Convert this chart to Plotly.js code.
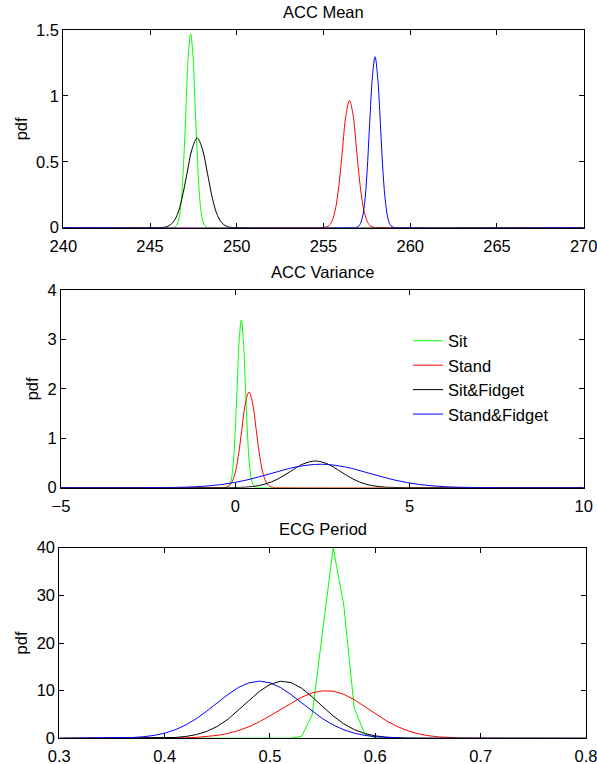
<!DOCTYPE html>
<html>
<head>
<meta charset="utf-8">
<script src="https://cdn.plot.ly/plotly-3.0.1.min.js"></script>
<style>
html,body{margin:0;padding:0;background:#ffffff;}
#chart{width:597px;height:764px;}
</style>
</head>
<body>
<div id="chart"></div>
<script>
// ---------- categories ----------
const seriesNames = ['Sit', 'Stand', 'Sit&Fidget', 'Stand&Fidget'];
const panelTitles = ['ACC Mean', 'ACC Variance', 'ECG Period'];
const yLabel = 'pdf';

// ---------- tick values ----------
const meanTicksX = [240, 245, 250, 255, 260, 265, 270];
const meanTicksY = [0, 0.5, 1, 1.5];
const varTicksX = [-5, 0, 5, 10];
const varTicksY = [0, 1, 2, 3, 4];
const ecgTicksX = [0.3, 0.4, 0.5, 0.6, 0.7, 0.8];
const ecgTicksY = [0, 10, 20, 30, 40];

// ---------- ACC Mean (pdf curves) ----------
const meanSitX = [240, 246.26, 246.39, 246.53, 246.66, 246.80, 246.93, 247.07, 247.20, 247.34, 247.48, 247.61, 247.75, 247.88, 248.02, 248.15, 248.29, 248.42, 270];
const meanSitY = [0, 0.0005, 0.0032, 0.0163, 0.0645, 0.199, 0.477, 0.892, 1.297, 1.47, 1.297, 0.892, 0.477, 0.199, 0.0645, 0.0163, 0.0032, 0.0005, 0];
const meanStandX = [240, 254.84, 255.05, 255.26, 255.46, 255.67, 255.88, 256.09, 256.29, 256.50, 256.71, 256.91, 257.12, 257.33, 257.54, 257.74, 257.95, 258.16, 270];
const meanStandY = [0, 0.0003, 0.0021, 0.0107, 0.0423, 0.130, 0.313, 0.585, 0.851, 0.964, 0.851, 0.585, 0.313, 0.130, 0.0423, 0.0107, 0.0021, 0.0003, 0];
const meanSitFidX = [240, 245.37, 245.66, 245.96, 246.25, 246.55, 246.84, 247.13, 247.43, 247.72, 248.01, 248.31, 248.60, 248.89, 249.19, 249.48, 249.78, 250.07, 270];
const meanSitFidY = [0, 0.0002, 0.0015, 0.0075, 0.0299, 0.092, 0.221, 0.412, 0.600, 0.68, 0.600, 0.412, 0.221, 0.092, 0.0299, 0.0075, 0.0015, 0.0002, 0];
const meanStandFidX = [240, 256.74, 256.89, 257.05, 257.20, 257.36, 257.51, 257.66, 257.82, 257.97, 258.12, 258.28, 258.43, 258.59, 258.74, 258.89, 259.05, 259.20, 270];
const meanStandFidY = [0, 0.0004, 0.0029, 0.0144, 0.0569, 0.175, 0.421, 0.787, 1.145, 1.297, 1.145, 0.787, 0.421, 0.175, 0.0569, 0.0144, 0.0029, 0.0004, 0];

// ---------- ACC Variance ----------
const varSitX = [-5, -0.297, -0.238, -0.179, -0.120, -0.061, -0.003, 0.056, 0.115, 0.174, 0.233, 0.292, 0.351, 0.409, 0.468, 0.527, 0.586, 0.645, 10];
const varSitY = [0, 0.001, 0.0075, 0.0376, 0.149, 0.459, 1.101, 2.056, 2.992, 3.39, 2.992, 2.056, 1.101, 0.459, 0.149, 0.0376, 0.0075, 0.001, 0];
const varStandX = [-5, -0.429, -0.326, -0.223, -0.120, -0.017, 0.086, 0.189, 0.292, 0.395, 0.498, 0.601, 0.704, 0.807, 0.910, 1.013, 1.116, 1.219, 10];
const varStandY = [0, 0.0006, 0.0043, 0.0215, 0.085, 0.262, 0.629, 1.175, 1.709, 1.937, 1.709, 1.175, 0.629, 0.262, 0.085, 0.0215, 0.0043, 0.0006, 0];
const varSitFidX = [-5, -0.58, -0.22, 0.14, 0.50, 0.86, 1.22, 1.58, 1.94, 2.30, 2.66, 3.02, 3.38, 3.74, 4.10, 4.46, 4.82, 5.18, 10];
const varSitFidY = [0, 0.0002, 0.0012, 0.006, 0.0237, 0.073, 0.175, 0.328, 0.477, 0.54, 0.477, 0.328, 0.175, 0.073, 0.0237, 0.006, 0.0012, 0.0002, 0];
const varStandFidX = [-5, -3.23, -2.52, -1.81, -1.10, -0.39, 0.32, 1.03, 1.74, 2.45, 3.16, 3.87, 4.58, 5.29, 6.00, 6.71, 7.42, 8.13, 10];
const varStandFidY = [0, 0.0002, 0.001, 0.0053, 0.0208, 0.0643, 0.154, 0.288, 0.419, 0.475, 0.419, 0.288, 0.154, 0.0643, 0.0208, 0.0053, 0.001, 0.0002, 0];

// ---------- ECG Period ----------
const ecgSitX = [0.30, 0.51, 0.52, 0.53, 0.54, 0.55, 0.56, 0.57, 0.58, 0.59, 0.60, 0.61, 0.80];
const ecgSitY = [0, 0, 0.03, 0.4, 4.9, 22.5, 40.0, 28.0, 6.3, 0.9, 0.06, 0, 0];
const ecgStandX = [0.30, 0.38, 0.39, 0.40, 0.41, 0.42, 0.43, 0.44, 0.45, 0.46, 0.47, 0.48, 0.49, 0.50, 0.51, 0.52, 0.53, 0.54, 0.55, 0.56, 0.57, 0.58, 0.59, 0.60, 0.61, 0.62, 0.63, 0.64, 0.65, 0.66, 0.67, 0.68, 0.69, 0.70, 0.71, 0.72, 0.80];
const ecgStandY = [0, 0.004, 0.01, 0.022, 0.047, 0.097, 0.19, 0.35, 0.61, 1.02, 1.62, 2.43, 3.47, 4.71, 6.07, 7.42, 8.62, 9.51, 9.96, 9.89, 9.23, 8.10, 6.67, 5.16, 3.75, 2.56, 1.64, 0.99, 0.56, 0.30, 0.15, 0.07, 0.03, 0.012, 0.005, 0.002, 0];
const ecgSitFidX = [0.30, 0.38, 0.39, 0.40, 0.41, 0.42, 0.43, 0.44, 0.45, 0.46, 0.47, 0.48, 0.49, 0.50, 0.51, 0.52, 0.53, 0.54, 0.55, 0.56, 0.57, 0.58, 0.59, 0.60, 0.61, 0.62, 0.63, 0.64, 0.65, 0.66, 0.80];
const ecgSitFidY = [0, 0.01, 0.028, 0.072, 0.17, 0.38, 0.77, 1.45, 2.50, 3.98, 5.84, 7.90, 9.85, 11.31, 11.98, 11.69, 10.52, 8.71, 6.66, 4.69, 3.04, 1.82, 1.00, 0.51, 0.24, 0.10, 0.04, 0.015, 0.005, 0.002, 0];
const ecgStandFidX = [0.30, 0.33, 0.34, 0.35, 0.36, 0.37, 0.38, 0.39, 0.40, 0.41, 0.42, 0.43, 0.44, 0.45, 0.46, 0.47, 0.48, 0.49, 0.50, 0.51, 0.52, 0.53, 0.54, 0.55, 0.56, 0.57, 0.58, 0.59, 0.60, 0.61, 0.62, 0.63, 0.64, 0.65, 0.80];
const ecgStandFidY = [0, 0.006, 0.015, 0.035, 0.078, 0.17, 0.33, 0.61, 1.08, 1.79, 2.80, 4.11, 5.70, 7.46, 9.18, 10.66, 11.65, 12.0, 11.65, 10.66, 9.18, 7.46, 5.70, 4.11, 2.80, 1.79, 1.08, 0.61, 0.33, 0.17, 0.078, 0.035, 0.015, 0.006, 0];

// ---------- styling (kept separate from data) ----------
const seriesColors = ['#00ff00', '#ff0000', '#000000', '#0000ff'];
const FONT = 'Liberation Sans, Arial, Helvetica, sans-serif';
const FS = 16.5;
const W = 597, H = 764;
// panel boxes in pixels: [left, right, top, bottom]
const boxes = [
  [63.3, 583.7, 30, 227.7],
  [61, 583.7, 290, 487.7],
  [59.3, 586, 547.7, 738.3]
];

const panels = [
  {xs: [meanSitX, meanStandX, meanSitFidX, meanStandFidX], ys: [meanSitY, meanStandY, meanSitFidY, meanStandFidY], shape: 'spline'},
  {xs: [varSitX, varStandX, varSitFidX, varStandFidX], ys: [varSitY, varStandY, varSitFidY, varStandFidY], shape: 'spline'},
  {xs: [ecgSitX, ecgStandX, ecgSitFidX, ecgStandFidX], ys: [ecgSitY, ecgStandY, ecgSitFidY, ecgStandFidY], shape: 'linear'}
];

const traces = [];
panels.forEach((p, pi) => {
  const sfx = pi === 0 ? '' : String(pi + 1);
  seriesNames.forEach((nm, si) => {
    traces.push({
      type: 'scatter', mode: 'lines',
      x: p.xs[si], y: p.ys[si],
      name: nm,
      xaxis: 'x' + sfx, yaxis: 'y' + sfx,
      line: {color: seriesColors[si], width: 1, shape: p.shape, smoothing: 1},
      showlegend: pi === 1,
      hoverinfo: 'x+y+name'
    });
  });
});

function axisBase() {
  return {
    showgrid: false, zeroline: false,
    showline: true, linecolor: '#000', linewidth: 1, mirror: 'ticks',
    ticks: 'inside', ticklen: 5, tickwidth: 1, tickcolor: '#000',
    tickfont: {family: FONT, size: FS, color: '#000'},
    tickmode: 'array', fixedrange: true,
    ticklabeloverflow: 'allow'
  };
}

const layout = {
  width: W, height: H,
  margin: {l: 0, r: 0, t: 0, b: 0, pad: 0},
  paper_bgcolor: '#fff', plot_bgcolor: '#fff',
  font: {family: FONT, size: FS, color: '#000'},
  showlegend: true,
  legend: {
    x: 408 / W, y: 1 - 323.5 / H, xanchor: 'left', yanchor: 'top',
    bgcolor: 'rgba(0,0,0,0)', borderwidth: 0,
    font: {family: FONT, size: FS, color: '#000'},
    tracegroupgap: 0
  },
  annotations: []
};

const xticks = [meanTicksX, varTicksX, ecgTicksX];
const yticks = [meanTicksY, varTicksY, ecgTicksY];
boxes.forEach((b, i) => {
  const sfx = i === 0 ? '' : String(i + 1);
  const xa = axisBase(), ya = axisBase();
  xa.domain = [b[0] / W, b[1] / W];
  xa.range = [xticks[i][0], xticks[i][xticks[i].length - 1]];
  xa.tickvals = xticks[i];
  xa.anchor = 'y' + sfx;
  xa.ticklabelstandoff = 3;
  ya.domain = [1 - b[3] / H, 1 - b[2] / H];
  ya.range = [yticks[i][0], yticks[i][yticks[i].length - 1]];
  ya.tickvals = yticks[i];
  ya.anchor = 'x' + sfx;
  ya.title = {text: yLabel, font: {family: FONT, size: FS, color: '#000'}, standoff: 4};
  layout['xaxis' + sfx] = xa;
  layout['yaxis' + sfx] = ya;
  layout.annotations.push({
    text: panelTitles[i], xref: 'paper', yref: 'paper',
    x: ((b[0] + b[1]) / 2) / W, y: 1 - (b[2] - 18.5) / H,
    xanchor: 'center', yanchor: 'middle', showarrow: false,
    font: {family: FONT, size: FS, color: '#000'}
  });
});

Plotly.newPlot('chart', traces, layout, {displayModeBar: false, staticPlot: false});
</script>
</body>
</html>
